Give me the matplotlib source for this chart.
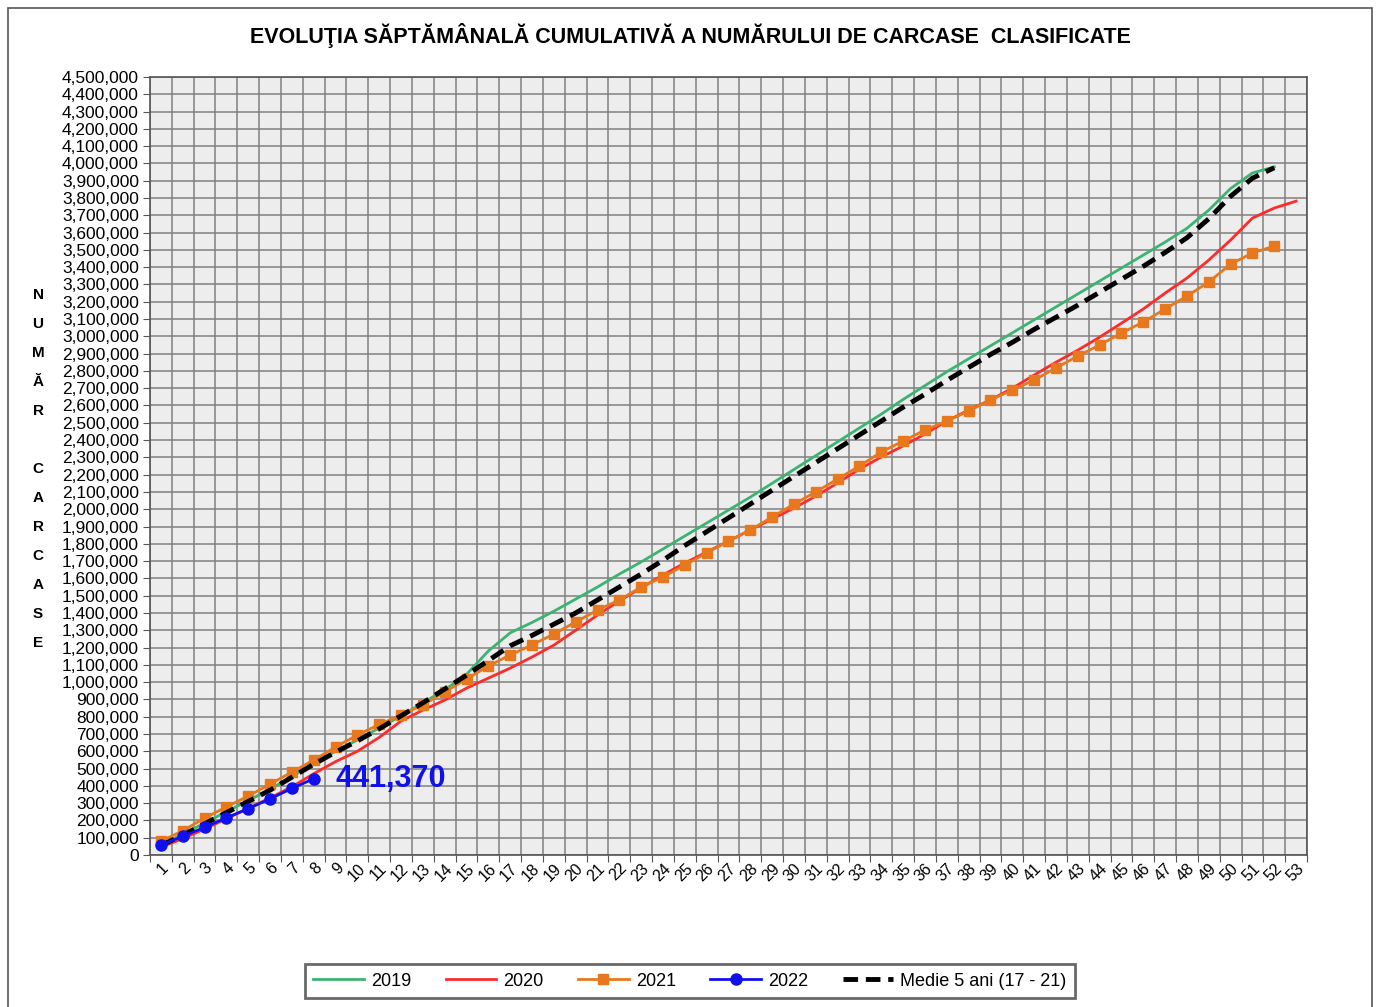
import numpy as np
import matplotlib
matplotlib.use('Agg')
from matplotlib import pyplot as plt
from matplotlib.ticker import FuncFormatter, MultipleLocator, FixedLocator
from matplotlib.patches import Rectangle

#Week numbers
weeks_52 = list(range(1, 53))
weeks_53 = list(range(1, 54))
weeks_22 = list(range(1, 9))

#Cumulative carcasses per week
y2019 = [60000, 120000, 185000, 250000, 315000, 380000, 455000, 530000, 600000, 665000,
         735000, 805000, 880000, 955000, 1045000, 1180000, 1285000, 1345000, 1410000, 1480000,
         1550000, 1625000, 1695000, 1770000, 1845000, 1920000, 1995000, 2070000, 2150000, 2230000,
         2310000, 2390000, 2470000, 2550000, 2635000, 2715000, 2795000, 2870000, 2945000, 3020000,
         3095000, 3170000, 3245000, 3320000, 3395000, 3470000, 3545000, 3625000, 3730000, 3855000,
         3945000, 3980000]

y2020 = [45000, 95000, 150000, 210000, 270000, 330000, 395000, 470000, 540000, 600000,
         680000, 775000, 838000, 896000, 965000, 1023000, 1081000, 1145000, 1214000, 1300000,
         1388000, 1470000, 1545000, 1620000, 1689000, 1752000, 1816000, 1880000, 1943000, 2007000,
         2076000, 2152000, 2232000, 2302000, 2366000, 2435000, 2510000, 2574000, 2632000, 2700000,
         2776000, 2850000, 2920000, 2995000, 3076000, 3158000, 3250000, 3337000, 3441000, 3557000,
         3684000, 3742000, 3782000]

y2021 = [80000, 140000, 214000, 278000, 341000, 410000, 480000, 549000, 625000, 694000,
         755000, 810000, 868000, 943000, 1018000, 1093000, 1157000, 1215000, 1278000, 1348000,
         1417000, 1475000, 1550000, 1608000, 1677000, 1747000, 1816000, 1880000, 1955000, 2030000,
         2100000, 2175000, 2250000, 2331000, 2394000, 2458000, 2510000, 2568000, 2632000, 2689000,
         2747000, 2817000, 2886000, 2950000, 3019000, 3083000, 3158000, 3233000, 3314000, 3418000,
         3482000, 3522000]

y2022 = [58000, 108000, 160000, 215000, 268000, 325000, 385000, 441370]

y_medie = [55000, 115000, 180000, 245000, 310000, 375000, 450000, 525000, 595000, 660000,
           730000, 805000, 880000, 960000, 1040000, 1125000, 1210000, 1270000, 1335000, 1400000,
           1475000, 1550000, 1625000, 1705000, 1790000, 1870000, 1950000, 2030000, 2110000, 2190000,
           2270000, 2350000, 2430000, 2510000, 2590000, 2665000, 2745000, 2820000, 2895000, 2965000,
           3040000, 3110000, 3180000, 3255000, 3330000, 3405000, 3485000, 3570000, 3680000, 3810000,
           3915000, 3975000]

ylabel_letters = ['N', 'U', 'M', 'Ă', 'R', '', 'C', 'A', 'R', 'C', 'A', 'S', 'E']

plt.rcParams['font.family'] = ['Liberation Sans', 'DejaVu Sans']

fig = plt.figure(figsize=(13.79, 10.07), dpi=100)
ax = fig.add_axes([150/1379, 1-855/1007, (1307-150)/1379, (855-77)/1007])
ax.set_facecolor('#ededed')

#Outer frame of the chart
fig.patches.append(Rectangle((8/1379, -0.01), (1372-8)/1379, 1-8/1007+0.01,
                             transform=fig.transFigure, fill=False,
                             edgecolor='#555555', linewidth=1.2))

ax.plot(weeks_52, y2019, color='#3cb371', lw=2, label='2019', zorder=3)
ax.plot(weeks_53, y2020, color='#ff2a2a', lw=2, label='2020', zorder=3)
ax.plot(weeks_52, y2021, color='#e8781e', lw=2, marker='s', ms=7, label='2021', zorder=4)
ax.plot(weeks_22, y2022, color='#1010ee', lw=2, marker='o', ms=8, label='2022', zorder=6)
ax.plot(weeks_52, y_medie, color='black', lw=3.5, ls=(0, (3, 1.6)), label='Medie 5 ani (17 - 21)', zorder=5)

ax.annotate(f'{y2022[-1]:,}', xy=(weeks_22[-1], y2022[-1]), xytext=(16, 0),
            textcoords='offset points', va='center', ha='left',
            fontsize=22, fontweight='bold', color='#1010ee')

#Axes, ticks and grid
ax.set_xlim(0.5, 53.5)
ax.set_ylim(0, 4500000)
ax.yaxis.set_major_locator(MultipleLocator(100000))
ax.yaxis.set_major_formatter(FuncFormatter(lambda v, p: f'{int(v):,}'))
ax.xaxis.set_major_locator(FixedLocator(np.arange(0.5, 54, 1)))
ax.xaxis.set_major_formatter(FuncFormatter(lambda v, p: ''))
ax.xaxis.set_minor_locator(FixedLocator(weeks_53))
ax.set_xticklabels([str(w) for w in weeks_53], minor=True)
ax.tick_params(axis='x', which='minor', length=0, pad=4, labelsize=11.5)
ax.tick_params(axis='x', which='major', length=5, color='#555555')
ax.tick_params(axis='y', length=5, color='#555555', labelsize=12.5, pad=3)
for lbl in ax.get_xticklabels(minor=True):
    lbl.set_rotation(45)
    lbl.set_ha('right')
    lbl.set_va('top')
    lbl.set_rotation_mode('anchor')

ax.grid(True, which='major', color='#808080', lw=1.1)
ax.set_axisbelow(True)
for s in ax.spines.values():
    s.set_color('#555555')
    s.set_linewidth(1.2)

fig.text(690/1379, 1-36/1007, 'EVOLUŢIA SĂPTĂMÂNALĂ CUMULATIVĂ A NUMĂRULUI DE CARCASE  CLASIFICATE',
         ha='center', va='center', fontsize=15.5, fontweight='bold')

for i, letter in enumerate(ylabel_letters):
    fig.text(38/1379, 1-(295+29*i)/1007, letter, ha='center', va='center',
             fontsize=11, fontweight='bold')

leg = fig.legend(loc='center', bbox_to_anchor=(690/1379, 1-981/1007), ncol=5,
                 fontsize=13, frameon=True, fancybox=False, handlelength=2.8,
                 handletextpad=0.4, columnspacing=1.9, borderpad=0.45)
leg.get_frame().set_edgecolor('#444444')
leg.get_frame().set_linewidth(2)

fig.savefig('out.png', dpi=100)
